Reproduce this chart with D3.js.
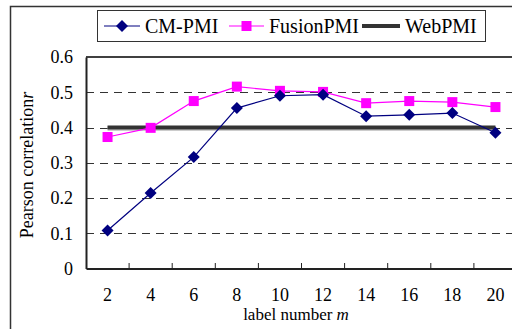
<!DOCTYPE html>
<html><head><meta charset="utf-8">
<script src="https://cdn.jsdelivr.net/npm/d3@7"></script>
<style>body{margin:0;background:#fff;}svg{display:block;}</style>
</head><body>
<script>
const categories = ["2","4","6","8","10","12","14","16","18","20"];
const cmPMI = [0.108,0.214,0.316,0.455,0.490,0.493,0.432,0.436,0.441,0.385];
const fusionPMI = [0.373,0.399,0.475,0.516,0.504,0.501,0.469,0.475,0.472,0.458];
const webPMI = [0.4,0.4,0.4,0.4,0.4,0.4,0.4,0.4,0.4,0.4];
const yTicks = [0,0.1,0.2,0.3,0.4,0.5,0.6];
const yTickLabels = ["0","0.1","0.2","0.3","0.4","0.5","0.6"];

const W=512,H=329;
const svg=d3.select("body").append("svg").attr("width",W).attr("height",H);
const font="'Liberation Serif','Times New Roman',serif";

// outer frame
svg.append("path").attr("d",`M10.5,${H+2} L10.5,6.5 L${W+2},6.5`).attr("fill","none").attr("stroke","#333").attr("stroke-width",1.5);

const x=d3.scaleBand().domain(categories).range([86,517]);
const y=d3.scaleLinear().domain([0,0.6]).range([268.5,57]);

// grid
svg.append("g").selectAll("line").data(yTicks.filter(v=>v>0&&v<0.6)).join("line")
 .attr("x1",86).attr("x2",W).attr("y1",d=>Math.round(y(d))+0.5).attr("y2",d=>Math.round(y(d))+0.5)
 .attr("stroke","#333").attr("stroke-width",1).attr("stroke-dasharray","8,6");
// top line
svg.append("line").attr("x1",86).attr("x2",W).attr("y1",y(0.6)).attr("y2",y(0.6)).attr("stroke","#000").attr("stroke-width",1.5);

// y axis
const ya=svg.append("g").attr("transform","translate(86,0)").call(d3.axisLeft(y).tickValues(yTicks).tickFormat((d,i)=>yTickLabels[i]).tickSize(0).tickPadding(13));
ya.select(".domain").attr("stroke","#222").attr("stroke-width",2);
ya.selectAll("text").attr("font-family",font).attr("font-size",18).attr("fill","#000");

// x axis
const xa=svg.append("g").attr("transform","translate(0,268.5)").call(d3.axisBottom(x).tickSize(0).tickPadding(20));
xa.select(".domain").attr("stroke","#222").attr("stroke-width",2);
xa.selectAll("text").attr("font-family",font).attr("font-size",18).attr("fill","#000");
// inner tick marks at band boundaries
svg.append("g").selectAll("line").data(categories.slice(1)).join("line")
 .attr("x1",d=>x(d)).attr("x2",d=>x(d)).attr("y1",268.5).attr("y2",263).attr("stroke","#222").attr("stroke-width",1);

const cx=(d,i)=>x(categories[i])+x.bandwidth()/2;

// WebPMI
svg.append("path").datum(webPMI).attr("d",d3.line().x(cx).y(d=>y(d)))
 .attr("fill","none").attr("stroke","#ccc").attr("stroke-width",5).attr("transform","translate(0,1)");
svg.append("path").datum(webPMI).attr("d",d3.line().x(cx).y(d=>y(d)))
 .attr("fill","none").attr("stroke","#333").attr("stroke-width",4);

// FusionPMI
svg.append("path").datum(fusionPMI).attr("d",d3.line().x(cx).y(d=>y(d)))
 .attr("fill","none").attr("stroke","#ff00ff").attr("stroke-width",1.2);
svg.append("g").selectAll("rect").data(fusionPMI).join("rect")
 .attr("x",(d,i)=>cx(d,i)-5).attr("y",d=>y(d)-5).attr("width",10).attr("height",10).attr("fill","#ff00ff");

// CM-PMI
svg.append("path").datum(cmPMI).attr("d",d3.line().x(cx).y(d=>y(d)))
 .attr("fill","none").attr("stroke","#000080").attr("stroke-width",1.2);
svg.append("g").selectAll("path").data(cmPMI).join("path")
 .attr("d",(d,i)=>{const a=cx(d,i),b=y(d);return `M${a},${b-6}L${a+6},${b}L${a},${b+6}L${a-6},${b}Z`;})
 .attr("fill","#000080");

// axis titles
const yl=svg.append("text").attr("transform","translate(33,165) rotate(-90)").attr("text-anchor","middle")
 .attr("font-family",font).attr("font-size",18).attr("fill","#000");
yl.append("tspan").text("Pearson correlation");
yl.append("tspan").attr("font-style","italic").text("r");
const xl=svg.append("text").attr("x",296).attr("y",320).attr("text-anchor","middle")
 .attr("font-family",font).attr("font-size",17).attr("fill","#000");
xl.append("tspan").text("label number ");
xl.append("tspan").attr("font-style","italic").text("m");

// legend
const lg=svg.append("g");
lg.append("rect").attr("x",97.5).attr("y",10.5).attr("width",388).attr("height",31).attr("fill","#fff").attr("stroke","#333").attr("stroke-width",1);
const items=[
 {name:"CM-PMI",x0:104,x1:140,tx:145,color:"#000080",mk:"diamond",w:1.2},
 {name:"FusionPMI",x0:229,x1:264,tx:269,color:"#ff00ff",mk:"square",w:1.2},
 {name:"WebPMI",x0:362,x1:400,tx:405,color:"#333",mk:null,w:4}];
items.forEach(it=>{
 lg.append("line").attr("x1",it.x0).attr("x2",it.x1).attr("y1",26).attr("y2",26).attr("stroke",it.color).attr("stroke-width",it.w);
 const m=(it.x0+it.x1)/2;
 if(it.mk==="diamond") lg.append("path").attr("d",`M${m},20L${m+6},26L${m},32L${m-6},26Z`).attr("fill",it.color);
 if(it.mk==="square") lg.append("rect").attr("x",m-5).attr("y",21).attr("width",10).attr("height",10).attr("fill",it.color);
 lg.append("text").attr("x",it.tx).attr("y",33).attr("font-family",font).attr("font-size",20).attr("fill","#000").text(it.name);
});
</script>
</body></html>
